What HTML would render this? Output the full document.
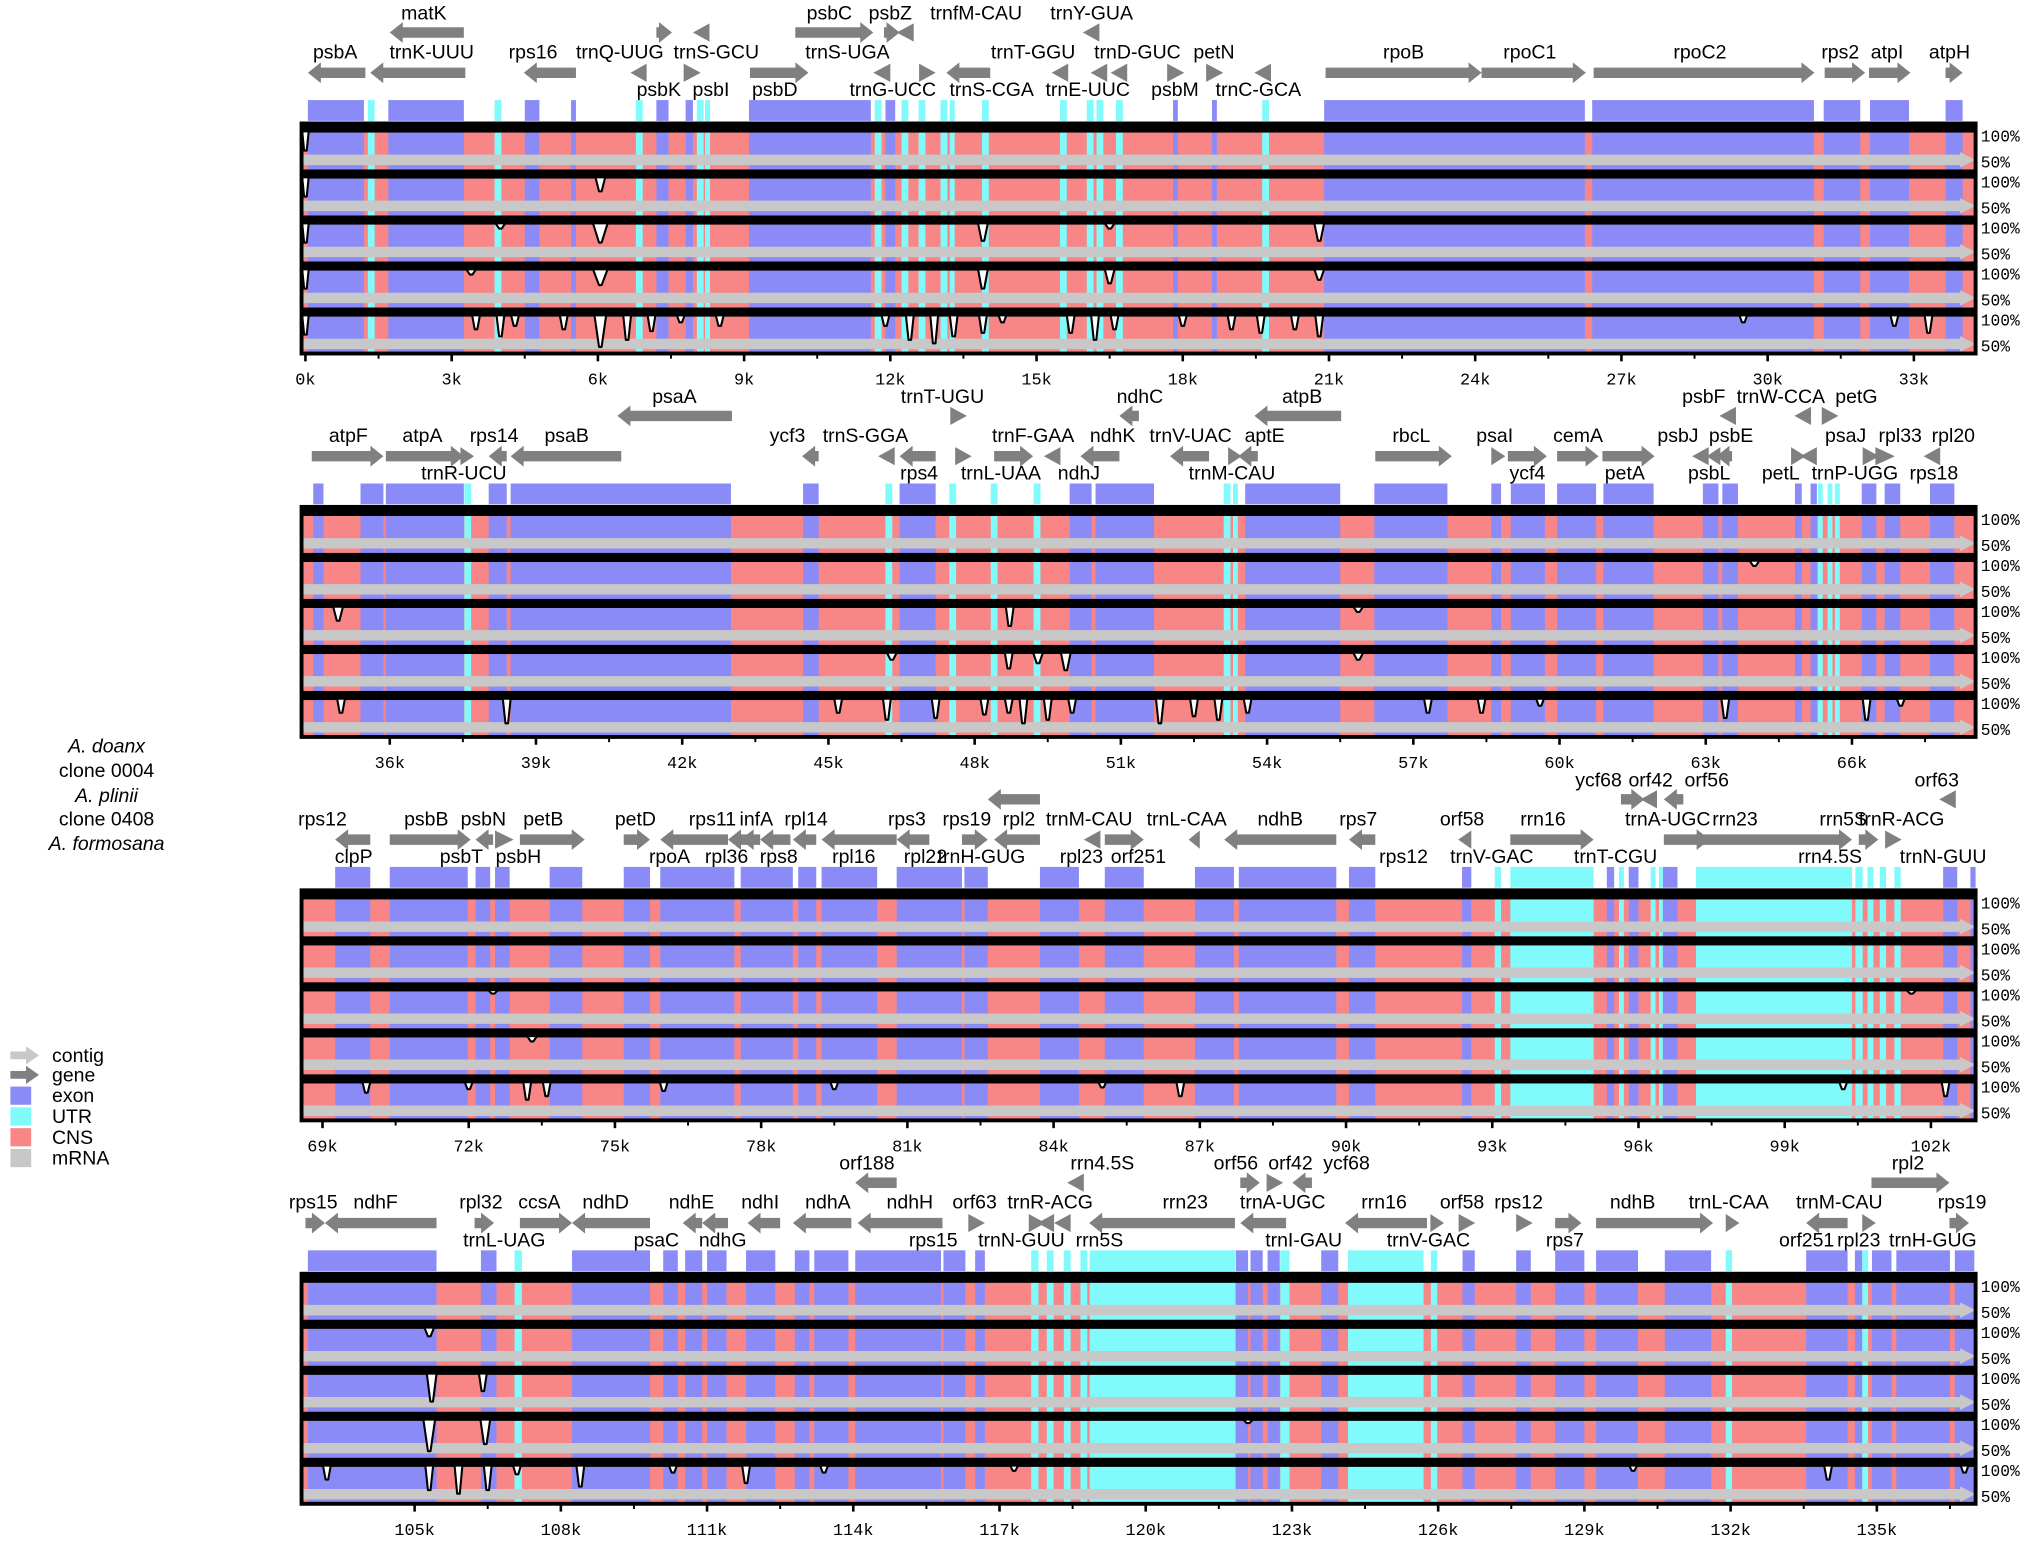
<!DOCTYPE html>
<html><head><meta charset="utf-8"><style>
html,body{margin:0;padding:0;background:#fff;width:2038px;height:1542px;overflow:hidden}
svg{display:block}
.gl{font-family:"Liberation Sans",sans-serif;font-size:15px;fill:#000}
.tk{font-family:"Liberation Mono",monospace;font-size:13px;fill:#000}
.pc{font-family:"Liberation Mono",monospace;font-size:12.5px;fill:#000}
</style></head><body>
<svg id="chart" width="2038" height="1542" viewBox="0 0 1568 1186.4" preserveAspectRatio="none" xmlns="http://www.w3.org/2000/svg">
<g class="gl" text-anchor="middle">
<text x="82" y="579" font-style="italic">A. doanx</text>
<text x="82" y="598">clone 0004</text>
<text x="82" y="617" font-style="italic">A. plinii</text>
<text x="82" y="635">clone 0408</text>
<text x="82" y="654" font-style="italic">A. formosana</text>
</g>
<g class="gl">
<g><polygon points="8,809 20,809 20,805 30,812 20,819 20,815 8,815" fill="#c8c8c8"/><text x="40" y="817">contig</text></g>
<g><polygon points="8,824 20,824 20,820 30,827 20,834 20,830 8,830" fill="#808080"/><text x="40" y="832">gene</text></g>
<g><rect x="8" y="836" width="16" height="14" fill="#8b8bf8"/><text x="40" y="848">exon</text></g>
<g><rect x="8" y="852" width="16" height="14" fill="#80fafa"/><text x="40" y="864">UTR</text></g>
<g><rect x="8" y="868" width="16" height="14" fill="#f88686"/><text x="40" y="880">CNS</text></g>
<g><rect x="8" y="884" width="16" height="14" fill="#c8c8c8"/><text x="40" y="896">mRNA</text></g>
</g>
</svg>
<script>
// ---- data (kb) ----
const panelStarts=[-0.08,34.19,68.57,102.68];
const ticksP1=[0,3,6,9,12,15,18,21,24,27,30,33];
const ticksP2=[36,39,42,45,48,51,54,57,60,63,66];
const ticksP3=[69,72,75,78,81,84,87,90,93,96,99,102];
const ticksP4=[105,108,111,114,117,120,123,126,129,132,135];
const exons=[[0.05,1.2],[1.7,3.25],[4.5,4.8],[5.45,5.55],[7.2,7.45],[7.8,7.95],[9.1,11.6],[11.9,12.1],[17.8,17.9],[18.6,18.7],[20.9,26.25],[26.4,30.95],[31.15,31.9],[32.1,32.9],[33.65,34.0],
[34.43,34.64],[35.4,35.87],[35.92,37.52],[38.03,38.4],[38.48,43.0],[44.48,44.8],[46.46,47.2],[49.95,50.4],[50.48,51.68],[53.55,55.5],[56.2,57.7],[58.6,58.8],[59.0,59.7],[59.95,60.75],[60.9,61.93],[62.94,63.26],[63.34,63.66],[64.83,64.97],[65.15,65.28],[66.2,66.5],[66.67,66.99],[67.6,68.1],
[69.26,69.98],[70.38,71.98],[72.14,72.44],[72.54,72.84],[73.66,74.33],[75.18,75.72],[75.93,77.45],[77.58,78.65],[78.76,79.13],[79.24,80.38],[80.78,82.12],[82.17,82.65],[83.72,84.52],[85.05,85.85],[86.9,87.7],[87.8,89.8],[90.06,90.6],[92.38,92.57],[95.35,95.5],[95.8,96.0],[96.5,96.8],[102.25,102.54],
[102.81,105.45],[106.36,106.68],[108.23,109.83],[110.1,110.4],[110.55,110.9],[111.0,111.4],[111.8,112.4],[112.8,113.1],[113.2,113.9],[114.04,115.8],[115.85,116.3],[116.5,116.7],[121.85,122.1],[122.15,122.4],[122.5,122.75],[123.6,123.95],[126.5,126.75],[127.6,127.9],[128.4,129.0],[129.24,130.1],[130.65,131.6],[133.55,134.4],[134.55,134.7],[134.9,135.3],[135.4,136.5],[136.6,137.0]];
const utrs=[[1.28,1.42],[3.88,4.02],[6.78,6.92],[8.03,8.17],[8.2,8.3],[11.68,11.82],[12.23,12.37],[12.58,12.72],[13.03,13.17],[13.22,13.32],[13.88,14.02],[15.48,15.62],[16.03,16.17],[16.23,16.37],[16.63,16.77],[19.63,19.77],
[37.53,37.67],[46.17,46.31],[47.48,47.62],[48.33,48.47],[49.21,49.35],[53.11,53.25],[53.3,53.4],[65.3,65.4],[65.5,65.6],[65.65,65.75],
[93.05,93.18],[93.37,95.08],[95.6,95.7],[96.25,96.35],[96.42,96.5],[97.18,100.38],[100.45,100.6],[100.7,100.82],[100.95,101.08],[101.25,101.38],
[107.05,107.2],[117.65,117.8],[117.97,118.11],[118.32,118.46],[118.66,118.8],[118.85,121.84],[122.76,122.95],[124.15,125.7],[125.85,125.98],[131.9,132.03],[134.7,134.82]];
// dips: [kb, depth (% of row drop), half-width kb]
const dipsRow1=[[0.0,55,0.06]];
const dipsRow2=[[0.0,55,0.06],[6.05,40,0.1],[64.0,15,0.1],[105.3,25,0.1]];
const dipsRow3=[[0.0,55,0.06],[4.0,15,0.1],[6.05,55,0.15],[13.9,50,0.1],[16.5,15,0.1],[20.8,50,0.1],[34.94,40,0.1],[48.72,55,0.08],[55.87,15,0.1],[72.5,10,0.1],[101.6,10,0.1],[105.35,80,0.1],[106.4,50,0.08]];
const dipsRow4=[[0.0,55,0.06],[3.4,15,0.1],[6.05,45,0.15],[13.9,55,0.1],[16.5,40,0.1],[20.8,30,0.1],[46.3,20,0.1],[48.7,45,0.08],[49.3,30,0.1],[49.87,50,0.1],[55.87,20,0.1],[73.3,15,0.1],[105.3,90,0.12],[106.45,70,0.1],[122.1,10,0.1]];
const dipsRow5=[[0.0,55,0.06],[3.5,40,0.08],[4.0,60,0.08],[4.3,30,0.08],[5.3,40,0.08],[6.05,90,0.12],[6.6,70,0.08],[7.1,45,0.08],[7.7,20,0.08],[8.5,30,0.08],[11.9,30,0.08],[12.4,70,0.08],[12.9,80,0.08],[13.3,60,0.08],[13.9,50,0.08],[14.3,20,0.08],[15.7,50,0.08],[16.2,70,0.08],[16.6,40,0.08],[18.0,30,0.08],[19.0,40,0.08],[19.6,50,0.08],[20.3,40,0.08],[20.8,60,0.08],[29.5,20,0.08],[32.6,30,0.08],[33.3,50,0.08],
[35.0,40,0.08],[38.4,70,0.08],[45.2,40,0.08],[46.2,60,0.08],[47.2,55,0.08],[48.2,45,0.08],[48.7,40,0.08],[49.0,70,0.08],[49.5,60,0.08],[50.0,40,0.08],[51.8,70,0.08],[52.5,50,0.08],[53.0,60,0.08],[53.6,40,0.08],[57.3,40,0.08],[58.4,40,0.08],[59.6,20,0.08],[63.4,55,0.08],[66.3,60,0.08],[67.0,20,0.08],
[69.9,30,0.08],[72.0,20,0.08],[73.2,50,0.08],[73.6,40,0.08],[76.0,25,0.08],[79.5,20,0.08],[85.0,15,0.08],[86.6,40,0.08],[100.2,20,0.08],[102.3,40,0.08],
[103.2,40,0.08],[105.3,70,0.08],[105.9,80,0.08],[106.5,70,0.08],[107.1,25,0.08],[108.4,60,0.08],[110.3,20,0.08],[111.8,50,0.08],[113.4,20,0.08],[117.3,15,0.08],[130.0,15,0.08],[134.0,40,0.08],[136.8,20,0.08]];
// genes: [name, startKb, endKb, dir(1 right,-1 left), arrowRow(0 upper,1 lower), labelRow(0,1,2), labelKb]
const genesP1=[["psbA",0.05,1.23,-1,1,1,0.61],["matK",1.73,3.25,-1,0,0,2.43],["trnK-UUU",1.33,3.28,-1,1,1,2.59],["rps16",4.48,5.55,-1,1,1,4.67],["trnQ-UUG",7.2,7.52,1,0,1,6.45],["psbK",6.75,7.0,-1,1,2,7.25],["psbI",7.76,8.03,1,1,2,8.32],["trnS-GCU",8.03,8.29,-1,0,1,8.43],["psbD",9.12,10.32,1,1,2,9.63],["psbC",10.05,11.65,1,0,0,10.75],["trnS-UGA",11.73,12.0,-1,1,1,11.12],["psbZ",11.87,12.19,1,0,0,12.0],["trnG-UCC",12.59,12.85,1,1,2,12.05],["trnfM-CAU",12.21,12.48,-1,0,0,13.76],["trnS-CGA",13.15,14.05,-1,1,2,14.08],["trnT-GGU",15.39,15.65,-1,1,1,14.93],["trnY-GUA",16.03,16.29,-1,0,0,16.13],["trnE-UUC",16.19,16.45,-1,1,2,16.05],["trnD-GUC",16.6,16.86,-1,1,1,17.07],["psbM",17.68,17.95,1,1,2,17.84],["petN",18.48,18.75,1,1,1,18.64],["trnC-GCA",19.55,19.81,-1,1,2,19.55],["rpoB",20.93,24.13,1,1,1,22.53],["rpoC1",24.13,26.27,1,1,1,25.12],["rpoC2",26.43,30.96,1,1,1,28.61],["rps2",31.17,32.0,1,1,1,31.49],["atpI",32.08,32.93,1,1,1,32.45],["atpH",33.65,34.0,1,1,1,33.73]];
const genesP2=[["atpF",34.4,35.87,1,1,1,35.15],["atpA",35.92,37.52,1,1,1,36.67],["trnR-UCU",37.45,37.65,1,1,2,37.52],["rps14",38.03,38.4,-1,1,1,38.14],["psaB",38.48,40.75,-1,1,1,39.63],["psaA",40.67,43.02,-1,0,0,41.84],["ycf3",44.46,44.8,-1,1,1,44.16],["trnS-GGA",46.1,46.36,-1,1,1,45.76],["trnT-UGU",47.5,47.76,1,0,0,47.34],["rps4",46.46,47.2,-1,1,2,46.86],["trnF-GAA",48.4,49.2,1,1,1,49.2],["trnL-UAA",47.6,47.86,1,1,2,48.54],["ndhJ",49.5,49.76,-1,1,2,50.14],["ndhK",50.17,50.97,-1,1,1,50.83],["ndhC",50.97,51.37,-1,0,0,51.39],["trnV-UAC",52.01,52.81,-1,1,1,52.43],["trnM-CAU",53.2,53.4,1,1,2,53.28],["aptE",53.41,53.81,-1,1,1,53.95],["atpB",53.74,55.52,-1,0,0,54.72],["rbcL",56.22,57.79,1,1,1,56.96],["psaI",58.6,58.81,1,1,1,58.67],["ycf4",58.94,59.74,1,1,2,59.34],["cemA",59.95,60.8,1,1,1,60.38],["petA",60.88,61.95,1,1,2,61.34],["psbJ",62.8,63.06,-1,1,1,62.43],["psbL",63.1,63.3,-1,1,2,63.07],["psbF",63.36,63.62,-1,0,0,62.96],["psbE",63.22,63.54,-1,1,1,63.52],["trnW-CCA",64.9,65.16,-1,0,0,64.54],["petG",65.38,65.64,1,0,0,66.09],["petL",64.75,64.97,1,1,2,64.54],["trnP-UGG",65.02,65.28,-1,1,2,66.06],["psaJ",66.22,66.48,1,1,1,65.87],["rpl33",66.48,66.8,1,1,1,66.99],["rpl20",67.55,67.81,-1,1,1,68.08],["rps18",66.8,66.8,1,1,2,67.68]];
const genesP3=[["rps12",69.0,69.0,-1,1,1,69.0],["clpP",69.26,69.98,-1,1,2,69.64],["psbB",70.38,72.04,1,1,1,71.13],["psbT",71.85,71.85,1,1,2,71.85],["psbN",72.14,72.5,-1,1,1,72.3],["psbH",72.54,72.84,1,1,2,73.02],["petB",73.05,74.38,1,1,1,73.53],["petD",75.18,75.72,1,1,1,75.42],["rpoA",75.93,77.32,-1,1,2,76.12],["rps11",77.32,77.72,-1,1,1,77.0],["rpl36",77.29,77.29,-1,1,2,77.29],["infA",77.58,77.98,-1,1,1,77.9],["rps8",77.98,78.6,-1,1,2,78.36],["rpl14",78.65,79.13,-1,1,1,78.92],["rpl16",79.24,80.78,-1,1,2,79.9],["rps3",80.78,81.45,-1,1,1,80.99],["rpl22",81.37,81.37,-1,1,2,81.37],["rps19",82.12,82.65,1,1,1,82.22],["trnH-GUG",82.78,83.72,-1,1,2,82.52],["rpl2",82.65,83.72,-1,0,1,83.29],["trnM-CAU",84.7,84.96,-1,1,1,84.73],["rpl23",84.57,84.57,-1,1,2,84.57],["orf251",85.05,85.85,1,1,2,85.74],["trnL-CAA",86.85,87.0,-1,1,1,86.73],["ndhB",87.5,89.8,-1,1,1,88.65],["rps7",90.06,90.6,-1,1,1,90.25],["rps12",91.18,91.18,-1,1,2,91.18],["orf58",92.38,92.57,-1,1,1,92.38],["trnV-GAC",92.99,92.99,1,1,2,92.99],["rrn16",93.37,95.08,1,1,1,94.04],["trnT-CGU",95.53,95.53,1,1,2,95.53],["ycf68",95.64,96.12,1,0,0,95.18],["orf42",96.12,96.38,-1,0,0,96.25],["orf56",96.52,96.92,-1,0,0,97.4],["trnA-UGC",96.52,97.46,1,1,1,96.6],["rrn23",97.18,100.38,1,1,1,97.98],["rrn4.5S",99.93,99.93,1,1,2,99.93],["rrn5S",100.52,100.92,1,1,1,100.2],["trnR-ACG",101.06,101.32,1,1,1,101.4],["orf63",102.25,102.51,-1,0,0,102.12],["trnN-GUU",102.25,102.25,1,1,2,102.25]];
const genesP4=[["rps15",102.76,103.16,1,1,1,102.92],["ndhF",103.16,105.45,-1,1,1,104.2],["rpl32",106.23,106.63,1,1,1,106.36],["trnL-UAG",106.84,106.84,1,1,2,106.84],["ccsA",107.16,108.23,1,1,1,107.56],["ndhD",108.23,109.83,-1,1,1,108.92],["psaC",109.96,109.96,-1,1,2,109.96],["ndhE",110.5,110.9,-1,1,1,110.68],["ndhG",110.9,111.43,-1,1,2,111.32],["ndhI",111.83,112.5,-1,1,1,112.09],["ndhA",112.76,113.96,-1,1,1,113.48],["orf188",114.04,114.89,-1,0,0,114.28],["ndhH",114.09,115.83,-1,1,1,115.16],["rps15",115.64,115.64,-1,1,2,115.64],["orf63",116.36,116.62,1,1,1,116.49],["trnN-GUU",117.6,117.86,1,1,2,117.45],["trnR-ACG",117.86,118.12,-1,1,1,118.04],["rrn4.5S",118.47,118.73,-1,0,0,119.11],["rrn5S",118.2,118.46,-1,1,2,119.05],["rrn23",118.84,121.83,-1,1,1,120.81],["orf56",121.94,122.34,1,0,0,121.85],["orf42",122.48,122.74,1,0,0,122.97],["ycf68",123.01,123.41,-1,0,0,124.12],["trnA-UGC",121.94,122.88,-1,1,1,122.81],["trnI-GAU",123.24,123.24,-1,1,2,123.24],["rrn16",124.09,125.77,-1,1,1,124.89],["orf58",126.42,126.68,1,1,1,126.49],["trnV-GAC",125.84,126.04,1,1,2,125.8],["rps12",127.6,127.86,1,1,1,127.65],["rps7",128.4,128.94,1,1,2,128.6],["ndhB",129.24,131.64,1,1,1,129.99],["trnL-CAA",131.9,132.1,1,1,1,131.96],["trnM-CAU",134.7,134.9,1,1,1,134.23],["orf251",133.55,134.4,-1,1,2,133.56],["rpl23",134.63,134.63,1,1,2,134.63],["trnH-GUG",136.15,136.15,1,1,2,136.15],["rpl2",134.89,136.49,1,0,0,135.64],["rps19",136.49,136.89,1,1,1,136.75]];

const rowDips=[dipsRow1,dipsRow2,dipsRow3,dipsRow4,dipsRow5];
const panelTicks=[ticksP1,ticksP2,ticksP3,ticksP4];
const panelGenes=[genesP1,genesP2,genesP3,genesP4];

// ---- layout ----
const NS="http://www.w3.org/2000/svg";
const svg=document.getElementById('chart');
const X0=232,X1=1520,PXKB=37.5,BOXH=177,ROWH=BOXH/5;
const panelTops=[95,390,685,980];
const C_EX="#8b8bf8",C_CNS="#f88686",C_UTR="#80fafa";
function mk(tag,attrs,parent){const e=document.createElementNS(NS,tag);for(const k in attrs)e.setAttribute(k,attrs[k]);parent.appendChild(e);return e;}
function xScale(p,kb){return X0+(kb-panelStarts[p])*PXKB;}
function clampX(x){return Math.max(X0,Math.min(X1,x));}
function depthY(y0,d){return y0+6+d/100*27;}

for(let p=0;p<4;p++){
  const P=panelTops[p];
  const g=mk('g',{},svg);
  
  
  // exon/UTR strip above
  const strip=mk('g',{},g);
  
  
  const bg=mk('rect',{x:X0,y:P,width:X1-X0,height:BOXH,fill:C_CNS},g);
  
  
  const drawRegions=(arr,color,name)=>{
    arr.forEach(r=>{
      const a=clampX(xScale(p,r[0])),b=clampX(xScale(p,r[1]));
      if(b-a<=0)return;
      const w=Math.max(b-a,2);
      const s=mk('rect',{x:a,y:P-18,width:w,height:16,fill:color},strip);
      
      
      const m=mk('rect',{x:a,y:P,width:w,height:BOXH,fill:color},g);
      
      
    });
  };
  drawRegions(exons,C_EX,'exon');
  drawRegions(utrs,C_UTR,'utr');
  // rows
  for(let r=0;r<5;r++){
    const y0=P+r*ROWH;
    const rg=mk('g',{},g);
    
    
    const cb=mk('polygon',{points:`${X0},${y0+24} ${X1-12},${y0+24} ${X1-12},${y0+22} ${X1},${y0+28} ${X1-12},${y0+34} ${X1-12},${y0+32} ${X0},${y0+32}`,fill:"#c8c8c8"},rg);
    
    
    mk('rect',{x:X0,y:y0,width:X1-X0,height:7,fill:"#000"},rg);
    // conservation curve
    const ds=rowDips[r].filter(d=>{const x=xScale(p,d[0]);return x>=X0-5&&x<=X1+5;});
    ds.forEach(d=>{
      const xc=xScale(p,d[0]),hw=Math.max(d[2]*PXKB,2.5);
      const yb=y0+6,yd=depthY(y0,d[1]);
      const a=clampX(xc-hw),b=clampX(xc+hw),c=clampX(xc);
      const dp=mk('path',{d:`M${a},${yb} L${c-1},${yd} L${c+1},${yd} L${b},${yb} Z`,fill:"#fff",stroke:"#000","stroke-width":1.6,"stroke-linejoin":"round"},rg);
      
      
    });
    const t1=mk('text',{x:1524,y:y0+14,class:'pc'},rg);t1.textContent='100%';
    
    
    const t2=mk('text',{x:1524,y:y0+34,class:'pc'},rg);t2.textContent='50%';
    
    
  }
  const box=mk('rect',{x:X0,y:P,width:X1-X0,height:BOXH,fill:"none",stroke:"#000","stroke-width":3},g);
  
  
  // x axis
  const ax=mk('g',{},g);
  
  
  panelTicks[p].forEach(t=>{
    const x=xScale(p,t);
    mk('line',{x1:x,x2:x,y1:P+BOXH,y2:P+BOXH+6,stroke:"#000","stroke-width":2},ax);
    const tx=mk('text',{x:x,y:P+BOXH+24,class:'tk','text-anchor':'middle'},ax);
    tx.textContent=t+'k';
    
    
    const xm=xScale(p,t+1.5);
    if(xm<X1) mk('line',{x1:xm,x2:xm,y1:P+BOXH,y2:P+BOXH+4,stroke:"#000","stroke-width":1.5},ax);
  });
  // genes
  const gg=mk('g',{},g);
  
  
  const arrowY=[P-70,P-39], labY=[P-80,P-50,P-21];
  panelGenes[p].forEach(gn=>{
    const [name,s,e,dir,ar,lr,lk]=gn;
    const ge=mk('g',{},gg);
    
    
    const a=xScale(p,s),b=xScale(p,e),y=arrowY[ar];
    if(b-a>0.5){
      let pts;
      if(b-a<12){
        pts= dir>0? `${a},${y-7} ${b+3},${y} ${a},${y+7}` : `${b},${y-7} ${a-3},${y} ${b},${y+7}`;
      } else {
        const h=10;
        pts= dir>0? `${a},${y-4} ${b-h},${y-4} ${b-h},${y-8} ${b},${y} ${b-h},${y+8} ${b-h},${y+4} ${a},${y+4}`
                  : `${b},${y-4} ${a+h},${y-4} ${a+h},${y-8} ${a},${y} ${a+h},${y+8} ${a+h},${y+4} ${b},${y+4}`;
      }
      mk('polygon',{points:pts,fill:"#808080"},ge);
    }
    const lt=mk('text',{x:xScale(p,lk),y:labY[lr],class:'gl','text-anchor':'middle'},ge);
    lt.textContent=name;
  });
}
</script>
</body></html>
